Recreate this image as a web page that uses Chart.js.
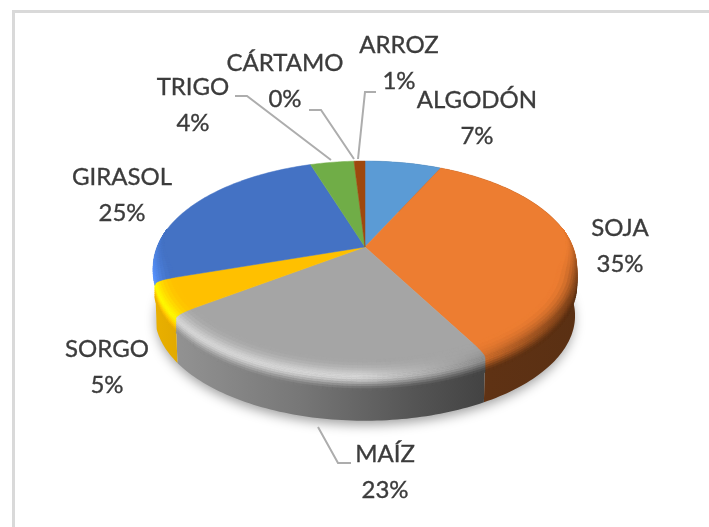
<!DOCTYPE html>
<html><head><meta charset="utf-8">
<style>html,body{margin:0;padding:0;background:#fff}canvas{display:block;filter:blur(0.4px)}</style>
<script src="https://cdn.jsdelivr.net/npm/chart.js@4"></script>
</head><body>
<canvas id="c" width="709" height="527"></canvas>
<script>
const categories = ['ALGODÓN','SOJA','MAÍZ','SORGO','GIRASOL','TRIGO','CÁRTAMO','ARROZ'];
const shares = [7,35,23,5,25,4,0,1];
const sliceColors = ['#5b9bd5','#ed7d31','#a5a5a5','#ffc000','#4472c4','#70ad47','#264478','#9e480e'];

// label layout: x centre, first-line y, leader polyline
const labelLayout = [
  {x:477,y:100,lead:null},
  {x:620,y:228,lead:null},
  {x:385,y:454,lead:[[318,427],[338,463],[351,463]]},
  {x:107,y:349,lead:null},
  {x:122,y:177,lead:null},
  {x:193,y:87,lead:[[235,96],[247,96],[331,160]]},
  {x:285,y:63,lead:[[309,110],[321,110],[354,159]]},
  {x:399,y:45,lead:[[376,92],[365,92],[358,159]]}
];

const P = {cx:365, ay:247, k:208, ks:102.2, p:0.1887, depth:49};
function proj(a, r, h){
  const x=Math.cos(a)*r, y=Math.sin(a)*r, w=1-P.p*y;
  return [P.cx+P.k*x/w, P.ay+P.ks*y/w+h];
}
function rgb(hex){return [1,3,5].map(i=>parseInt(hex.substr(i,2),16));}
function css(c){return 'rgb('+c.map(v=>Math.max(0,Math.min(255,Math.round(v)))).join(',')+')';}
function mix(a,b,t){return a.map((v,i)=>v+(b[i]-v)*t);}
function table(stops,x){
  if(x<=stops[0][0]) return stops[0][1];
  for(let i=1;i<stops.length;i++){
    if(x<=stops[i][0]){const a=stops[i-1],b=stops[i];return a[1]+(b[1]-a[1])*(x-a[0])/(b[0]-a[0]);}
  }
  return stops[stops.length-1][1];
}
const wallStops=[[150,.92],[300,.72],[420,.5],[488,.4],[580,.38]];
const rimStops=[[150,1.3],[360,1.3],[450,1],[570,.55]];
function smooth(t){t=Math.max(0,Math.min(1,t));return t*t*(3-2*t);}

function quad(ctx,pts,col,lw){
  ctx.fillStyle=col;ctx.strokeStyle=col;ctx.lineWidth=lw;
  ctx.beginPath();pts.forEach((q,i)=>i?ctx.lineTo(q[0],q[1]):ctx.moveTo(q[0],q[1]));
  ctx.closePath();ctx.fill();if(lw>0)ctx.stroke();
}
const RIM_STEPS=14, HL=.55, RIM_IN=.91, RIM_H=18, RIM_MID=4;
function rimW(a){return smooth((Math.sin(a)+.22)/.5);}
function rimPoint(a,u){
  const W=rimW(a);
  let r,h;
  if(u<HL){const v=u/HL;r=1-(1-RIM_IN)*(1-v)*(1-v);h=RIM_MID*v*v;}
  else{const v=(u-HL)/(1-HL);r=1;h=RIM_MID+(RIM_H-RIM_MID)*v;}
  return proj(a,1-(1-r)*W,h*W);
}

const pie3d = {
  id:'pie3d',
  beforeDatasetDraw(chart,args){
    const ctx=chart.ctx, arcs=chart.getDatasetMeta(args.index).data;
    ctx.save();
    // frame
    ctx.fillStyle='#d9d9d9';
    ctx.fillRect(12,10,697,3);ctx.fillRect(12,10,3,517);
    // soft shadow under the pie
    const outline=()=>{ctx.beginPath();
      for(let i=0;i<=120;i++){const q=proj(i/120*Math.PI*2,.985,P.depth);i?ctx.lineTo(q[0],q[1]):ctx.moveTo(q[0],q[1]);}
      ctx.closePath();};
    ctx.save();
    ctx.shadowColor='rgba(0,0,0,0.38)';ctx.shadowBlur=12;ctx.shadowOffsetY=5;ctx.fillStyle='#e6e6e6';
    outline();ctx.fill();ctx.restore();

    const live=arcs.map((A,i)=>({A,i,base:rgb(sliceColors[i])})).filter(o=>o.A.endAngle-o.A.startAngle>1e-4);
    const pts=o=>Math.max(3,Math.ceil((o.A.endAngle-o.A.startAngle)*50));
    const ang=(o,j,n)=>o.A.startAngle+(o.A.endAngle-o.A.startAngle)*j/n;
    // side walls (only the front, from the left tangent round to the right)
    live.forEach(o=>{
      const n=pts(o), as=[];
      for(let j=0;j<=n;j++){const a=ang(o,j,n); if(!(Math.cos(a)<0 && Math.sin(a)<.3)) as.push(a);}
      if(as.length<2) return;
      const g=ctx.createLinearGradient(150,0,580,0);
      wallStops.forEach(s=>g.addColorStop((s[0]-150)/430,css(mix([0,0,0],o.base,s[1]))));
      ctx.fillStyle=g;
      ctx.beginPath();
      as.forEach((a,i)=>{const q=proj(a,1,0);i?ctx.lineTo(q[0],q[1]):ctx.moveTo(q[0],q[1]);});
      as.slice().reverse().forEach(a=>{const q=proj(a,.992,P.depth);ctx.lineTo(q[0],q[1]);});
      ctx.closePath();ctx.fill();
    });
    // flat top
    live.forEach(o=>{
      const n=pts(o);
      ctx.beginPath();
      let q=proj(0,0,0);ctx.moveTo(q[0],q[1]);
      for(let j=0;j<=n;j++){q=proj(ang(o,j,n),1,0);ctx.lineTo(q[0],q[1]);}
      ctx.closePath();
      const c=css(o.base);ctx.fillStyle=c;ctx.strokeStyle=c;ctx.lineWidth=.5;ctx.fill();ctx.stroke();
    });
    // bevelled rim
    live.forEach(o=>{
      const n=pts(o);
      for(let j=0;j<n;j++){
        const a0=ang(o,j,n),a1=ang(o,j+1,n);
        const W=Math.min(rimW(a0),rimW(a1));
        if(W<.01) continue;
        const sideLeft=Math.cos(a0)<0 && Math.sin((a0+a1)/2)<.3;
        for(let s=0;s<RIM_STEPS;s++){
          const u0=s/RIM_STEPS,u1=(s+1)/RIM_STEPS,um=(u0+u1)/2;
          if(sideLeft && um>HL) continue;
          const p00=rimPoint(a0,u0),p01=rimPoint(a1,u0),p11=rimPoint(a1,u1),p10=rimPoint(a0,u1);
          const xm=(p00[0]+p01[0]+p11[0]+p10[0])/4;
          const hl=o.base.map(v=>v*table(rimStops,xm));
          const wc=mix([0,0,0],o.base,table(wallStops,xm));
          let col=um<HL?mix(o.base,hl,smooth(um/HL)):mix(hl,wc,smooth((um-HL)/(1-HL)));
          col=mix(o.base,col,W);
          quad(ctx,[p00,p01,p11,p10],css(col),.6);
        }
      }
    });
    ctx.restore();
    return false;
  },
  afterDatasetsDraw(chart){
    const ctx=chart.ctx;
    ctx.save();
    ctx.strokeStyle='#adadad';ctx.lineWidth=2;ctx.lineJoin='miter';
    labelLayout.forEach(l=>{ if(!l.lead) return;
      ctx.beginPath();l.lead.forEach((q,i)=>i?ctx.lineTo(q[0],q[1]):ctx.moveTo(q[0],q[1]));ctx.stroke();});
    ctx.fillStyle='#3c3c3c';ctx.strokeStyle='#3c3c3c';ctx.lineWidth=.35;
    ctx.font='24px Lato, "Open Sans", sans-serif';ctx.textAlign='center';ctx.textBaseline='middle';
    categories.forEach((name,i)=>{
      const l=labelLayout[i];
      [[name,l.y],[shares[i]+'%',l.y+36]].forEach(([s,y])=>{ctx.fillText(s,l.x,y);ctx.strokeText(s,l.x,y);});
    });
    ctx.restore();
  }
};

new Chart(document.getElementById('c'),{
  type:'pie',
  data:{labels:categories,datasets:[{data:shares,backgroundColor:sliceColors,borderWidth:0}]},
  options:{responsive:false,animation:false,plugins:{legend:{display:false},tooltip:{enabled:false}},layout:{padding:0}},
  plugins:[pie3d]
});
</script>
</body></html>
